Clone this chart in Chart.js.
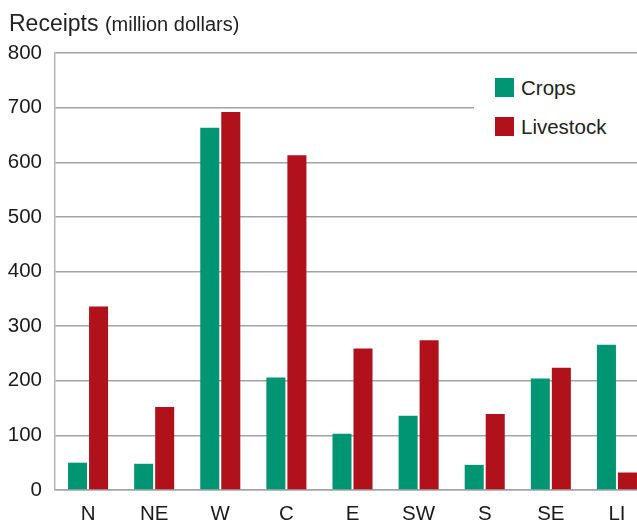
<!DOCTYPE html>
<html>
<head>
<meta charset="utf-8">
<script src="https://cdn.jsdelivr.net/npm/chart.js@4.4.1/dist/chart.umd.min.js"></script>
<style>
    body { margin: 0; background: #fff; font-family: "Liberation Sans", Arial, sans-serif; color: #222; }
    .wrap { position: relative; width: 637px; height: 527px; overflow: hidden; }
    .canvas1 { position: absolute; left: 0; top: 0; width: 650px; height: 527px; }
    .title { position: absolute; left: 9px; top: 10px; font-size: 23px; white-space: nowrap; }
    .title small { font-size: 20px; }
    .legend { position: absolute; left: 474px; top: 60px; width: 170px; height: 92px; background: #fff; }
    .legend p { position: absolute; left: 21px; margin: 0; font-size: 20.5px; line-height: 20px; }
    .legend p span { position: absolute; left: 0; top: 0; width: 19px; height: 19px; }
    .legend p b { font-weight: normal; position: absolute; left: 26px; top: 0; white-space: nowrap; }
</style>
</head>
<body>
<div class="wrap">
    <div class="canvas1"><canvas id="stick" width="650" height="527" style="width:650px; height:527px;"></canvas></div>
    <div class="title">Receipts <small>(million dollars)</small></div>
    <div class="legend"></div>
</div>
<script>
// 데이터
const regions = ['N', 'NE', 'W', 'C', 'E', 'SW', 'S', 'SE', 'LI'];
const crops = [50, 48, 663, 206, 103, 136, 46, 204, 266];
const livestock = [336, 152, 692, 613, 259, 274, 139, 224, 32];
const yTicks = [0, 100, 200, 300, 400, 500, 600, 700, 800];
const seriesNames = ['Crops', 'Livestock'];
const seriesColors = ['#009673', '#b0111a'];

// 범례
const legendTops = [18, 57];
seriesNames.forEach((name, i) => {
    document.querySelector('.legend').insertAdjacentHTML('beforeend',
        `<p style="top:${legendTops[i]}px;"><span style="background:${seriesColors[i]}"></span><b>${name}</b></p>`);
});

const font = { family: '"Liberation Sans", Arial, sans-serif', size: 20.5 };

new Chart(document.getElementById('stick'), {
    type: 'bar',
    data: {
        labels: regions,
        datasets: [
            { label: seriesNames[0], data: crops, backgroundColor: seriesColors[0] },
            { label: seriesNames[1], data: livestock, backgroundColor: seriesColors[1] }
        ]
    },
    options: {
        responsive: false,
        animation: false,
        events: [],
        categoryPercentage: 0.636,
        barPercentage: 0.905,
        layout: { padding: { top: 53, left: 0, right: 0, bottom: 0 } },
        plugins: {
            legend: { display: false },
            tooltip: { enabled: false }
        },
        scales: {
            x: {
                grid: { display: false, drawTicks: false },
                border: { display: true, color: '#a3a3a3', width: 1.5 },
                ticks: { color: '#1a1a1a', font: font, padding: 12 },
                afterFit(scale) { scale.height = 37; }
            },
            y: {
                min: 0,
                max: 800,
                afterBuildTicks(scale) { scale.ticks = yTicks.map(v => ({ value: v })); },
                grid: { color: '#a3a3a3', lineWidth: 1.5, drawTicks: false },
                border: { display: true, color: '#b5b5b5', width: 1.5 },
                ticks: { color: '#1a1a1a', font: font, padding: 13 },
                afterFit(scale) { scale.width = 55; }
            }
        }
    }
});
</script>
</body>
</html>
